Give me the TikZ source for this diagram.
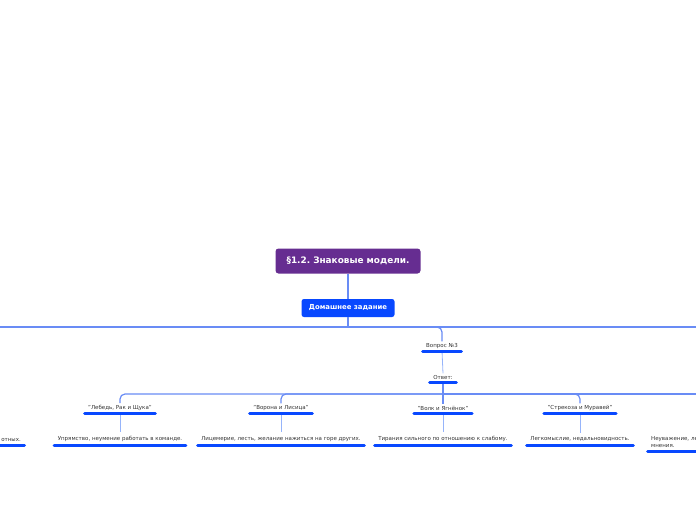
\documentclass[tikz,border=0pt]{standalone}
\usepackage{fontspec}
\setmainfont{DejaVu Sans}
\frenchspacing
\definecolor{rootpurple}{RGB}{102,45,145}
\definecolor{topicblue}{RGB}{8,72,255}
\definecolor{linkblue}{RGB}{105,140,245}
\definecolor{leaflink}{RGB}{150,180,250}
\tikzset{
	root/.style={fill=rootpurple, text=white, rounded corners=3pt, minimum width=145pt, minimum height=25pt, font=\fontsize{8.9}{10}\bfseries},
	homework/.style={fill=topicblue, text=white, rounded corners=2.5pt, minimum width=93pt, minimum height=18pt, font=\fontsize{6.9}{8}\bfseries},
	topic/.style={inner xsep=5pt, inner ysep=2pt, font=\fontsize{5.5}{7}\selectfont, text=black!80, anchor=south},
	moral/.style={topic, inner ysep=3.5pt},
	bar/.style={topicblue, line width=3pt, line cap=round, shorten <=1.5pt, shorten >=1.5pt},
	link/.style={linkblue, line width=1.2pt, rounded corners=5pt},
	leaf/.style={leaflink, line width=0.8pt},
}
\begin{document}
\begin{tikzpicture}[x=1pt, y=-1pt]
	\useasboundingbox (0,0) rectangle (696,520);
	% Central topic and the homework branch
	\node[root] (root) at (348,261) {§1.2. Знаковые модели.};
	\node[homework] (hw) at (348,308) {Домашнее задание};
	\draw[link] (root.south) -- (hw.north);
	
	% Junction points, some of them on the page edge
	\coordinate (hubA) at (348,327);
	\coordinate (hubB) at (443,394);
	\coordinate (edgeL) at (0,327);
	\coordinate (edgeR) at (696,327);
	\coordinate (edgeRB) at (696,394);
	
	% Question and its answer
	\node[topic] (q3) at (442,351) {Вопрос №3};
	\node[topic] (ans) at (443,382) {Ответ:};
	\draw[link] (hw.south) -- (hubA);
	\draw[link] (hubA) -- (edgeL);
	\draw[link] (hubA) -- (edgeR);
	\draw[link] (hubA) -| (q3.north);
	\draw[leaf] (q3.south) -- (ans.north);
	\draw[link, line width=1.8pt] (ans.south) -- (hubB);
	\draw[link] (hubB) -- (edgeRB);
	
	% Fables and their morals
	\foreach \i/\x/\fable/\moral in {
		1/120/{"Лебедь, Рак и Щука"}/{Упрямство, неумение работать в команде.},
		2/281/{"Ворона и Лисица"}/{Лицемерие, лесть, желание нажиться на горе других.},
		3/443/{"Волк и Ягнёнок"}/{Тирания сильного по отношению к слабому.},
		4/580/{"Стрекоза и Муравей"}/{Легкомыслие, недальновидность.}} {
		\node[topic] (f\i) at (\x,413) {\fable};
		\node[moral] (m\i) at (\x,445) {\moral};
		\draw[link] (hubB) -| (f\i.north);
		\draw[leaf] (f\i.south) -- (m\i.north);
	}
	
	% Morals cut by the page edges
	\node[moral, anchor=south east] (m0) at (26,445) {отных.};
	\node[moral, anchor=south west, text width=60pt, align=left] (m5) at (646,451) {Неуважение, ле\\мнения.};
	
	% Underlines of the topics
	\foreach \n in {q3,ans,f1,f2,f3,f4,m0,m1,m2,m3,m4,m5}
		\draw[bar] (\n.south west) -- (\n.south east);
\end{tikzpicture}
\end{document}
